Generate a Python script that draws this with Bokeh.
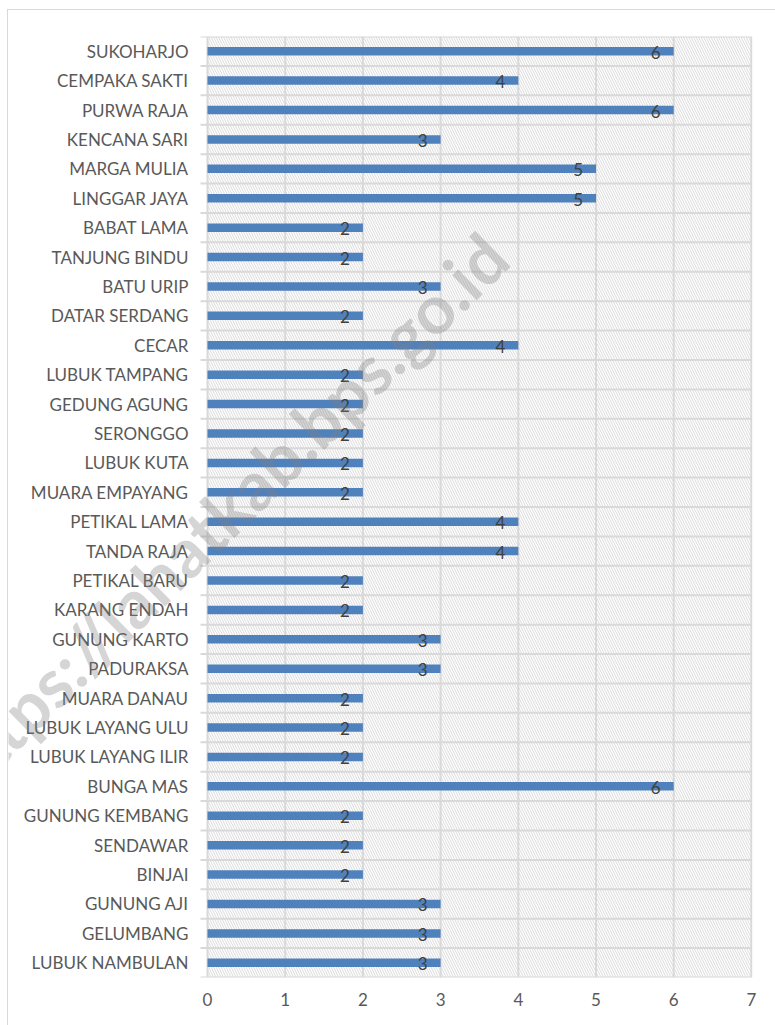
import math
from bokeh.plotting import figure
from bokeh.models import ColumnDataSource, FixedTicker, Range1d, Label
from bokeh.core.properties import value
from bokeh.embed import file_html
from bokeh.resources import INLINE

# Data (top to bottom as shown in the chart)
villages = [
    "SUKOHARJO", "CEMPAKA SAKTI", "PURWA RAJA", "KENCANA SARI", "MARGA MULIA",
    "LINGGAR JAYA", "BABAT LAMA", "TANJUNG BINDU", "BATU URIP", "DATAR SERDANG",
    "CECAR", "LUBUK TAMPANG", "GEDUNG AGUNG", "SERONGGO", "LUBUK KUTA",
    "MUARA EMPAYANG", "PETIKAL LAMA", "TANDA RAJA", "PETIKAL BARU", "KARANG ENDAH",
    "GUNUNG KARTO", "PADURAKSA", "MUARA DANAU", "LUBUK LAYANG ULU", "LUBUK LAYANG ILIR",
    "BUNGA MAS", "GUNUNG KEMBANG", "SENDAWAR", "BINJAI", "GUNUNG AJI",
    "GELUMBANG", "LUBUK NAMBULAN",
]
counts = [6, 4, 6, 3, 5, 5, 2, 2, 3, 2, 4, 2, 2, 2, 2, 2, 4, 4, 2, 2, 3, 3, 2, 2, 2, 6, 2, 2, 2, 3, 3, 3]
x_ticks = [0, 1, 2, 3, 4, 5, 6, 7]
watermark_text = "https://lahatkab.bps.go.id"

n = len(villages)
# bottom category at y=0.5
ypos = [n - 0.5 - i for i in range(n)]

FONT = "Lato"
LABEL_COLOR = "#595959"
GRID = "#d9d9d9"
xmax = x_ticks[-1]

# frame spans the whole width so the watermark may cross the label area
p = figure(
    output_backend="svg", toolbar_location=None,
    frame_width=744, frame_height=941,
    min_border_left=0, min_border_right=23, min_border_top=26, min_border_bottom=48,
    x_range=Range1d(-2.561, 7.014), y_range=Range1d(0, n),
)
p.styles = {"margin-left": "7px", "margin-top": "9px",
            "border-left": "1px solid #d9d9d9", "border-top": "1px solid #d9d9d9"}
p.outline_line_color = None
p.background_fill_color = "white"
p.border_fill_color = "white"
p.xgrid.visible = False
p.ygrid.visible = False

# hatched plot background
p.quad(left=[0], right=[xmax], bottom=[0], top=[n], fill_color=None, line_color=None,
       hatch_pattern="left_diagonal_line", hatch_color="#dadada", hatch_scale=5, hatch_weight=1)

# grid lines
p.segment(x0=x_ticks, x1=x_ticks, y0=[0] * len(x_ticks), y1=[n] * len(x_ticks),
          line_color=GRID, line_width=2)
bounds = list(range(n + 1))
p.segment(x0=[-0.09] * len(bounds), x1=[xmax] * len(bounds), y0=bounds, y1=bounds,
          line_color=GRID, line_width=2)

src = ColumnDataSource(dict(y=ypos, v=counts, name=villages, lbl=[str(c) for c in counts]))
p.hbar(y="y", left=0, right="v", height=0.29, source=src, fill_color="#4f81bd", line_color=None)

p.text(x="v", y="y", text="lbl", source=src, text_align="right", text_baseline="middle",
       x_offset=-13, y_offset=1, text_font=value(FONT), text_font_size="17px", text_color="#404040")

# axes
p.xaxis.ticker = FixedTicker(ticks=x_ticks)
p.xaxis.axis_line_color = None
p.xaxis.major_tick_line_color = None
p.xaxis.minor_tick_line_color = None
p.xaxis.major_tick_out = 0
p.xaxis.minor_tick_out = 0
p.xaxis.major_label_standoff = 15
p.xaxis.major_label_text_font = FONT
p.xaxis.major_label_text_font_size = "17px"
p.xaxis.major_label_text_color = LABEL_COLOR

p.yaxis.ticker = FixedTicker(ticks=ypos)
p.yaxis.major_label_overrides = {y: name for y, name in zip(ypos, villages)}
p.yaxis.axis_line_color = None
p.yaxis.major_tick_line_color = None
p.yaxis.minor_tick_line_color = None
p.yaxis.major_tick_out = 0
p.yaxis.minor_tick_out = 0
p.yaxis.major_label_standoff = -180
p.yaxis.major_label_text_font = FONT
p.yaxis.major_label_text_font_size = "17px"
p.yaxis.major_label_text_color = LABEL_COLOR

wm = Label(x=0.195, y=15.81, text=watermark_text, angle=math.radians(44.5),
           text_align="center", text_baseline="middle", text_font=FONT, text_font_style="bold",
           text_font_size="68px", text_color="#808080", text_alpha=0.33, level="overlay")
p.add_layout(wm)

open("out.html", "w").write(file_html(p, INLINE))
